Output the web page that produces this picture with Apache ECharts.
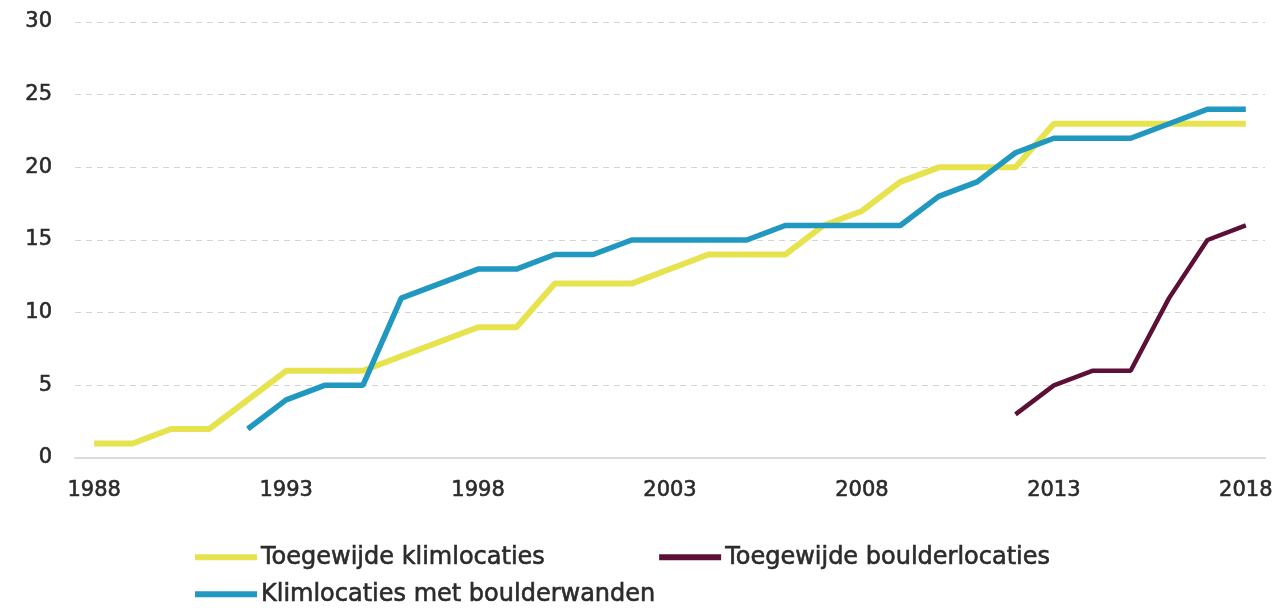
<!DOCTYPE html>
<html>
<head>
<meta charset="utf-8">
<script src="https://cdn.jsdelivr.net/npm/echarts@6/dist/echarts.min.js"></script>
<style>
    html, body { margin: 0; padding: 0; background: #fff; }
    #chart { width: 1281px; height: 612px; }
</style>
</head>
<body>
<div id="chart"></div>
<script>
// jaren 1988 - 2018
var years = [];
for (var y = 1988; y <= 2018; y++) { years.push(String(y)); }

var yTicks = [0, 5, 10, 15, 20, 25, 30];

// Toegewijde klimlocaties
var klimlocaties = [1, 1, 2, 2, 4, 6, 6, 6, 7, 8, 9, 9, 12, 12, 12, 13,
    14, 14, 14, 16, 17, 19, 20, 20, 20, 23, 23, 23, 23, 23, 23];
// Klimlocaties met boulderwanden (start 1992)
var metBoulderwanden = [null, null, null, null, 2, 4, 5, 5, 11, 12, 13, 13, 14, 14, 15, 15,
    15, 15, 16, 16, 16, 16, 18, 19, 21, 22, 22, 22, 23, 24, 24];
// Toegewijde boulderlocaties (start 2012)
var boulderlocaties = [null, null, null, null, null, null, null, null, null, null, null, null,
    null, null, null, null, null, null, null, null, null, null, null, null,
    3, 5, 6, 6, 11, 15, 16];

var fontFam = '"DejaVu Sans", sans-serif';
var textColor = '#2b2b2b';

var myChart = echarts.init(document.getElementById('chart'));

// iets vettere tekst zoals in het origineel
var textBold = { textBorderColor: textColor, textBorderWidth: 0.6 };

// legende-stijl, gedeeld door beide rijen
var legendStyle = {
    left: 190,
    icon: 'rect',
    itemWidth: 62,
    itemHeight: 6,
    itemGap: 114,
    textStyle: Object.assign({ fontFamily: fontFam, fontSize: 24, color: textColor, padding: [0, 0, 0, -1] }, textBold)
};

var option = {
    animation: false,
    grid: {
        left: 75,
        right: 16,
        top: 22,
        bottom: 154
    },
    legend: [
        Object.assign({}, legendStyle, {
            top: 540,
            data: ['Toegewijde klimlocaties', 'Toegewijde boulderlocaties']
        }),
        Object.assign({}, legendStyle, {
            top: 577,
            data: ['Klimlocaties met boulderwanden']
        })
    ],
    xAxis: {
        type: 'category',
        boundaryGap: true,
        data: years,
        axisLine: { lineStyle: { color: '#dcdcdc', width: 2 } },
        axisTick: { show: false },
        axisLabel: Object.assign({
            interval: 4,
            margin: 22,
            fontFamily: fontFam,
            fontSize: 21,
            color: textColor
        }, textBold)
    },
    yAxis: {
        type: 'value',
        min: yTicks[0],
        max: yTicks[yTicks.length - 1],
        interval: 5,
        axisLine: { show: false },
        axisTick: { show: false },
        axisLabel: Object.assign({
            margin: 23,
            fontFamily: fontFam,
            fontSize: 21,
            color: textColor
        }, textBold),
        splitLine: {
            lineStyle: { color: '#d4d4d4', type: [6, 5], width: 1 }
        }
    },
    series: [
        {
            name: 'Toegewijde klimlocaties',
            type: 'line',
            data: klimlocaties,
            showSymbol: false,
            color: '#e6e34e',
            lineStyle: { width: 6, color: '#e6e34e' }
        },
        {
            name: 'Toegewijde boulderlocaties',
            type: 'line',
            data: boulderlocaties,
            showSymbol: false,
            color: '#5c1035',
            lineStyle: { width: 4.5, color: '#5c1035' }
        },
        {
            name: 'Klimlocaties met boulderwanden',
            type: 'line',
            data: metBoulderwanden,
            showSymbol: false,
            color: '#2198c0',
            lineStyle: { width: 5.5, color: '#2198c0' }
        }
    ]
};

myChart.setOption(option);
</script>
</body>
</html>
